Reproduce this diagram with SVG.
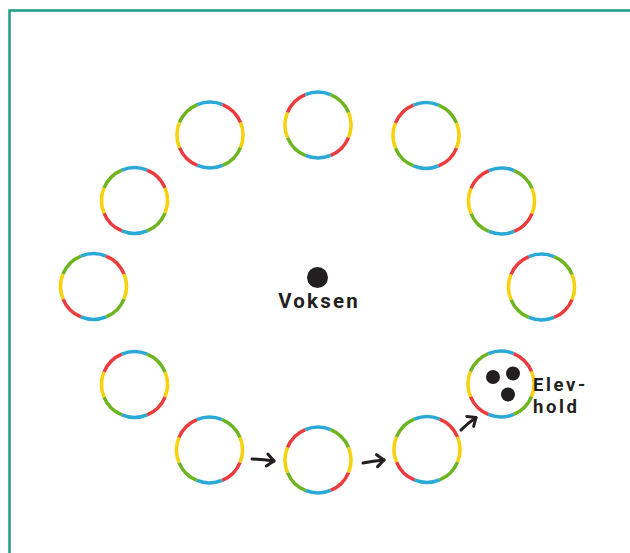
<svg xmlns="http://www.w3.org/2000/svg" width="630" height="553" viewBox="0 0 630 553">
  <defs>
    <style>
      .seg { fill: none; stroke-width: 3.5; stroke-linecap: butt; }
      .b { stroke: #2aa8d6; }
      .r { stroke: #ec3b3c; }
      .y { stroke: #f6d10c; }
      .g { stroke: #6cb520; }
      .lbl { font-family: Roboto, "Liberation Sans", sans-serif; font-weight: bold; font-size: 20px; fill: #231f20; letter-spacing: 1.8px; }
      .big { font-size: 20.5px; letter-spacing: 2.2px; }
      .small { font-size: 18.5px; letter-spacing: 2.6px; }
      .dot { fill: #231f20; }
      .arrow { fill: none; stroke: #231f20; stroke-width: 3; stroke-linecap: round; }
    </style>
    <marker id="head" markerUnits="userSpaceOnUse" markerWidth="20" markerHeight="20" viewBox="-10 -10 20 20" refX="0" refY="0" orient="auto">
      <path d="M-7,-6 L0,0 L-7,6" fill="none" stroke="#231f20" stroke-width="3" stroke-linecap="round" stroke-linejoin="round"/>
    </marker>
    <g id="hoopA">
      <path class="seg y" d="M30.49,-12.63 A33,33 0 0 1 30.49,12.63"/>
      <path class="seg g" d="M30.49,12.63 A33,33 0 0 1 12.63,30.49"/>
      <path class="seg b" d="M12.63,30.49 A33,33 0 0 1 -12.63,30.49"/>
      <path class="seg r" d="M-12.63,30.49 A33,33 0 0 1 -30.49,12.63"/>
      <path class="seg y" d="M-30.49,12.63 A33,33 0 0 1 -30.49,-12.63"/>
      <path class="seg g" d="M-30.49,-12.63 A33,33 0 0 1 -12.63,-30.49"/>
      <path class="seg b" d="M-12.63,-30.49 A33,33 0 0 1 12.63,-30.49"/>
      <path class="seg r" d="M12.63,-30.49 A33,33 0 0 1 30.49,-12.63"/>
    </g>
    <g id="hoopB">
      <path class="seg y" d="M30.49,-12.63 A33,33 0 0 1 30.49,12.63"/>
      <path class="seg r" d="M30.49,12.63 A33,33 0 0 1 12.63,30.49"/>
      <path class="seg b" d="M12.63,30.49 A33,33 0 0 1 -12.63,30.49"/>
      <path class="seg g" d="M-12.63,30.49 A33,33 0 0 1 -30.49,12.63"/>
      <path class="seg y" d="M-30.49,12.63 A33,33 0 0 1 -30.49,-12.63"/>
      <path class="seg r" d="M-30.49,-12.63 A33,33 0 0 1 -12.63,-30.49"/>
      <path class="seg b" d="M-12.63,-30.49 A33,33 0 0 1 12.63,-30.49"/>
      <path class="seg g" d="M12.63,-30.49 A33,33 0 0 1 30.49,-12.63"/>
    </g>
  </defs>

  <rect id="frame" x="9.5" y="10.5" width="640" height="560" fill="none" stroke="#1e9b87" stroke-width="2.5"/>

  <g id="hoop1"><use href="#hoopA" x="210" y="135"/></g>
  <g id="hoop2"><use href="#hoopB" x="318" y="125"/></g>
  <g id="hoop3"><use href="#hoopB" x="426" y="135.5"/></g>
  <g id="hoop4"><use href="#hoopB" x="501.5" y="201"/></g>
  <g id="hoop5"><use href="#hoopB" x="541.5" y="287"/></g>
  <g id="hoop6">
    <use href="#hoopA" x="501" y="384"/>
    <circle class="dot" cx="493" cy="377" r="7"/>
    <circle class="dot" cx="513" cy="373.5" r="7"/>
    <circle class="dot" cx="508" cy="394.5" r="7"/>
  </g>
  <g id="hoop7"><use href="#hoopA" x="427" y="449.5"/></g>
  <g id="hoop8"><use href="#hoopB" x="318" y="460"/></g>
  <g id="hoop9"><use href="#hoopB" x="209.5" y="450"/></g>
  <g id="hoop10"><use href="#hoopB" x="134.5" y="384.5"/></g>
  <g id="hoop11"><use href="#hoopA" x="93.5" y="286.5"/></g>
  <g id="hoop12"><use href="#hoopA" x="134.5" y="200.5"/></g>

  <g id="voksen">
    <circle class="dot" cx="317.5" cy="277.5" r="10.5"/>
    <text class="lbl big" x="319" y="308" text-anchor="middle">Voksen</text>
  </g>

  <g id="elevhold-label">
    <text class="lbl small"><tspan x="533" y="391">Elev-</tspan><tspan x="533" y="413">hold</tspan></text>
  </g>

  <g id="connectors">
    <path class="arrow" d="M252,459 Q263,459.5 274,461" marker-end="url(#head)"/>
    <path class="arrow" d="M363,463 Q373,461 384,460" marker-end="url(#head)"/>
    <path class="arrow" d="M461,430 Q468,423 476,417.5" marker-end="url(#head)"/>
  </g>
</svg>
